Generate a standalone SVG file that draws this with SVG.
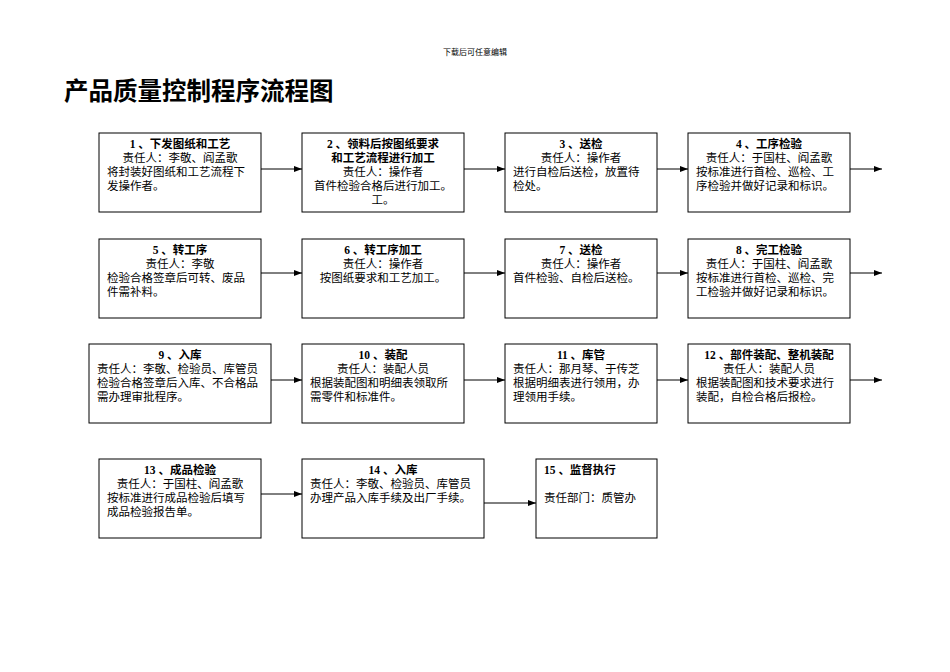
<svg xmlns="http://www.w3.org/2000/svg" width="950" height="672" viewBox="0 0 950 672">
<defs><marker id="a" markerWidth="8" markerHeight="6" refX="8" refY="3" orient="auto" markerUnits="userSpaceOnUse"><path d="M0,0L8,3L0,6z" fill="#000"/></marker></defs>
<style>
text{font-family:"Liberation Serif","Noto Sans CJK SC",serif;font-size:11.5px;fill:#000}
.b{font-weight:bold}
.c{text-anchor:middle}
rect{fill:#fff;stroke:#000;stroke-width:1}
line,polyline{stroke:#000;stroke-width:1;fill:none;marker-end:url(#a)}
</style>
<rect x="0" y="0" width="950" height="672" style="stroke:none"/>
<text x="475" y="55" class="c" style="font-size:8px">下载后可任意编辑</text>
<text x="64" y="100" class="b" style="font-size:24.5px">产品质量控制程序流程图</text>
<g id="connectors">
<line x1="261" y1="169" x2="302" y2="169"/><line x1="464" y1="169" x2="505" y2="169"/><line x1="657" y1="169" x2="688" y2="169"/><line x1="850" y1="169" x2="882" y2="169"/>
<line x1="261" y1="273" x2="302" y2="273"/><line x1="464" y1="273" x2="505" y2="273"/><line x1="657" y1="273" x2="688" y2="273"/><line x1="850" y1="273" x2="882" y2="273"/>
<line x1="271" y1="380" x2="302" y2="380"/><line x1="464" y1="380" x2="505" y2="380"/><line x1="657" y1="380" x2="688" y2="380"/><line x1="850" y1="380" x2="882" y2="380"/>
<line x1="261" y1="494" x2="302" y2="494"/><line x1="484" y1="503" x2="536" y2="503"/>
</g>
<g id="n1"><rect x="99" y="133" width="162" height="79"/><text x="180" y="148" class="c b">1 、下发图纸和工艺</text><text x="180" y="162" class="c">责任人：李敬、阎孟歌</text><text x="107" y="176">将封装好图纸和工艺流程下</text><text x="107" y="190">发操作者。</text></g>
<g id="n2"><rect x="302" y="133" width="162" height="79"/><text x="383" y="148" class="c b">2 、领料后按图纸要求</text><text x="383" y="162" class="c b">和工艺流程进行加工</text><text x="383" y="176" class="c">责任人：操作者</text><text x="383" y="190" class="c">首件检验合格后进行加工。</text><text x="383" y="204" class="c">工。</text></g>
<g id="n3"><rect x="505" y="133" width="152" height="79"/><text x="581" y="148" class="c b">3 、送检</text><text x="581" y="162" class="c">责任人：操作者</text><text x="513" y="176">进行自检后送检，放置待</text><text x="513" y="190">检处。</text></g>
<g id="n4"><rect x="688" y="133" width="162" height="79"/><text x="769" y="148" class="c b">4 、工序检验</text><text x="769" y="162" class="c">责任人：于国柱、阎孟歌</text><text x="696" y="176">按标准进行首检、巡检、工</text><text x="696" y="190">序检验并做好记录和标识。</text></g>
<g id="n5"><rect x="99" y="239" width="162" height="79"/><text x="180" y="254" class="c b">5 、转工序</text><text x="180" y="268" class="c">责任人：李敬</text><text x="107" y="282">检验合格签章后可转、废品</text><text x="107" y="296">件需补料。</text></g>
<g id="n6"><rect x="302" y="239" width="162" height="79"/><text x="383" y="254" class="c b">6 、转工序加工</text><text x="383" y="268" class="c">责任人：操作者</text><text x="383" y="282" class="c">按图纸要求和工艺加工。</text></g>
<g id="n7"><rect x="505" y="239" width="152" height="79"/><text x="581" y="254" class="c b">7 、送检</text><text x="581" y="268" class="c">责任人：操作者</text><text x="513" y="282">首件检验、自检后送检。</text></g>
<g id="n8"><rect x="688" y="239" width="162" height="79"/><text x="769" y="254" class="c b">8 、完工检验</text><text x="769" y="268" class="c">责任人：于国柱、阎孟歌</text><text x="696" y="282">按标准进行首检、巡检、完</text><text x="696" y="296">工检验并做好记录和标识。</text></g>
<g id="n9"><rect x="89" y="344" width="182" height="79"/><text x="180" y="359" class="c b">9 、入库</text><text x="97" y="373">责任人：李敬、检验员、库管员</text><text x="97" y="387">检验合格签章后入库、不合格品</text><text x="97" y="401">需办理审批程序。</text></g>
<g id="n10"><rect x="302" y="344" width="162" height="79"/><text x="383" y="359" class="c b">10 、装配</text><text x="383" y="373" class="c">责任人：装配人员</text><text x="310" y="387">根据装配图和明细表领取所</text><text x="310" y="401">需零件和标准件。</text></g>
<g id="n11"><rect x="505" y="344" width="152" height="79"/><text x="581" y="359" class="c b">11 、库管</text><text x="513" y="373">责任人：那月琴、于传芝</text><text x="513" y="387">根据明细表进行领用，办</text><text x="513" y="401">理领用手续。</text></g>
<g id="n12"><rect x="688" y="344" width="162" height="79"/><text x="769" y="359" class="c b">12 、部件装配、整机装配</text><text x="769" y="373" class="c">责任人：装配人员</text><text x="696" y="387">根据装配图和技术要求进行</text><text x="696" y="401">装配，自检合格后报检。</text></g>
<g id="n13"><rect x="99" y="459" width="162" height="79"/><text x="180" y="474" class="c b">13 、成品检验</text><text x="180" y="488" class="c">责任人：于国柱、阎孟歌</text><text x="107" y="502">按标准进行成品检验后填写</text><text x="107" y="516">成品检验报告单。</text></g>
<g id="n14"><rect x="302" y="459" width="182" height="79"/><text x="393" y="474" class="c b">14 、入库</text><text x="310" y="488">责任人：李敬、检验员、库管员</text><text x="310" y="502">办理产品入库手续及出厂手续。</text></g>
<g id="n15"><rect x="536" y="459" width="121" height="79"/><text x="544" y="474" class="b">15 、监督执行</text><text x="544" y="502">责任部门：质管办</text></g>
</svg>
